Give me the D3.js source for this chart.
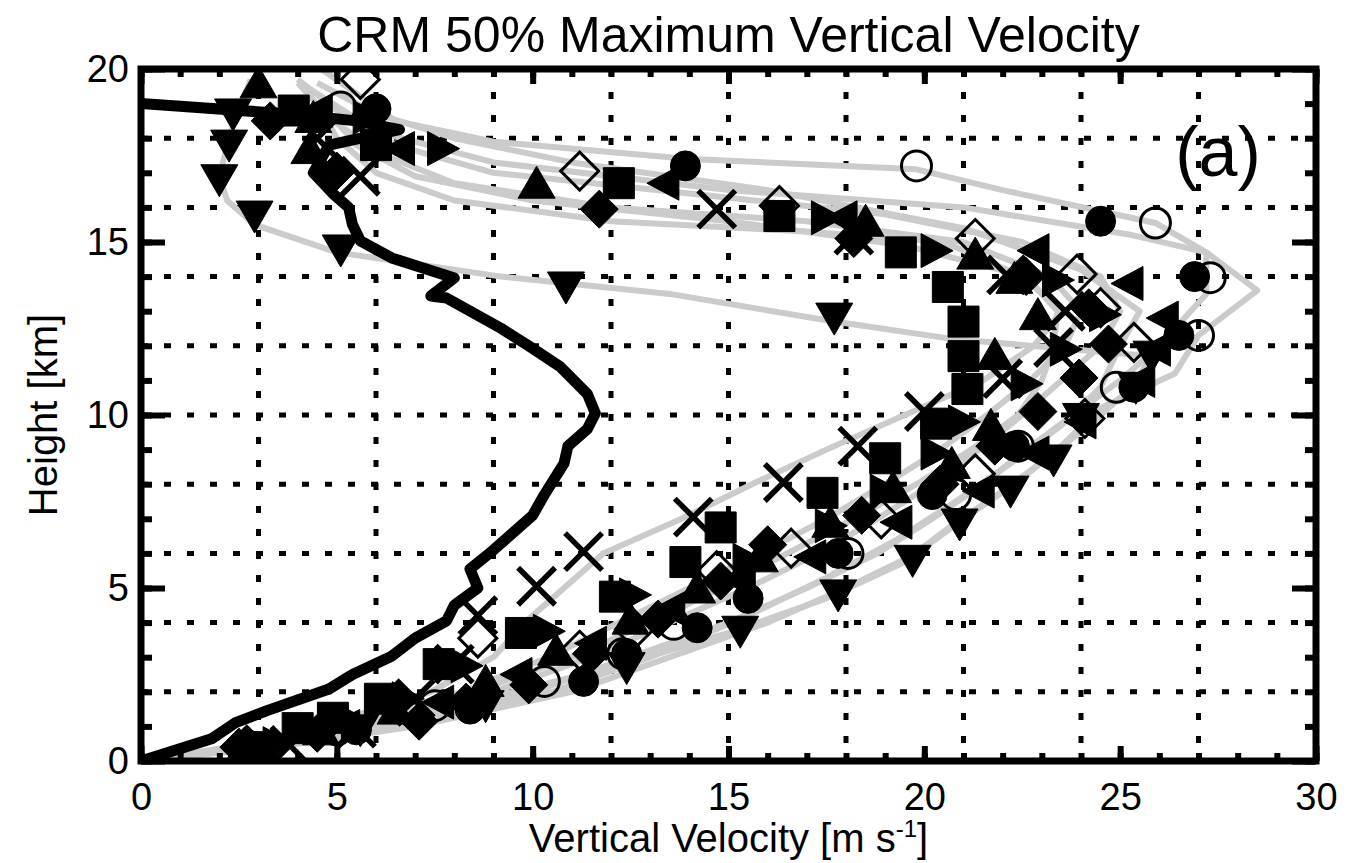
<!DOCTYPE html>
<html>
<head>
<meta charset="utf-8">
<script src="https://cdn.jsdelivr.net/npm/d3@7"></script>
<style>
  body { margin: 0; background: #fff; }
  text { font-family: "Liberation Sans", Arial, Helvetica, sans-serif; }
</style>
</head>
<body>
<div id="chart"></div>
<script>
// axis ticks / grid
const xMajor = [0, 5, 10, 15, 20, 25, 30];
const yMajor = [0, 5, 10, 15, 20];
const xMinor = d3.range(0, 31, 1);
const yMinor = d3.range(0, 21, 1);
const xGrid = [3, 6, 9, 12, 15, 18, 21, 24, 27];
const yGrid = [2, 4, 6, 8, 10, 12, 14, 16, 18];

// thick black profile [w, z]
const obsProfile = [[0,0],[1.8,0.64],[2.4,1.1],[3.2,1.45],[4.8,2.08],[5.4,2.5],[6.4,3.03],[7.0,3.55],[7.8,4.05],[8.0,4.5],[8.6,5.0],[8.4,5.55],[9.0,6.1],[9.4,6.5],[10.0,7.1],[10.3,7.7],[10.8,8.6],[10.9,9.1],[11.4,9.6],[11.6,10.05],[11.4,10.6],[10.7,11.4],[9.9,12.0],[9.2,12.5],[7.8,13.38],[7.4,13.44],[8.0,13.96],[6.4,14.54],[5.6,15.03],[5.4,15.5],[5.3,16.0],[4.9,16.4],[4.4,17.0],[4.8,17.8],[6.6,18.25],[5.5,18.5],[3.8,18.7],[0,19.0]];

// grey model profiles [w, z]
const grey1 = [[0,0],[4.0,0.5],[7.0,1.0],[11.0,2.0],[13.5,3.0],[16.0,4.0],[18.0,5.0],[19.8,6.0],[21.0,7.0],[22.3,8.0],[23.4,9.0],[24.5,10.2],[26.4,11.2],[27.0,12.3],[28.5,13.6],[27.2,14.7],[25.9,15.55],[22.0,16.5],[19.8,17.1],[14.0,17.4],[9.0,17.9],[6.5,18.5],[4.6,20.0]];
const grey2 = [[0,0],[3.5,0.5],[6.0,1.0],[10.0,2.0],[12.5,3.0],[15.0,4.0],[17.0,5.0],[18.8,6.0],[20.2,7.0],[21.5,8.0],[22.6,9.0],[23.8,10.0],[25.0,11.0],[26.0,12.0],[27.2,13.5],[27.2,14.7],[25.3,15.2],[21.0,16.0],[15.0,16.5],[9.0,17.3],[6.0,18.2],[4.2,19.5]];
const grey3 = [[0,0],[3.2,0.5],[5.5,1.0],[9.0,2.0],[11.5,3.0],[13.5,4.0],[15.5,5.0],[17.3,6.0],[18.8,7.0],[20.2,8.0],[21.4,9.0],[22.5,10.0],[23.5,11.0],[24.5,12.0],[25.0,13.0],[24.5,14.0],[22.5,15.0],[19.0,15.8],[14.0,16.4],[9.0,17.0],[6.5,17.8],[5.0,18.8],[4.0,19.7]];
const grey4 = [[0,0],[3.0,0.5],[5.0,1.0],[8.2,2.0],[10.4,3.0],[12.2,4.0],[14.0,5.0],[15.8,6.0],[17.5,7.0],[19.0,8.0],[20.4,9.0],[21.6,10.0],[22.7,11.0],[23.6,12.0],[24.0,13.0],[23.2,14.0],[21.0,15.0],[17.0,15.6],[12.0,16.0],[8.0,16.7],[6.0,17.6],[4.8,18.6],[4.0,19.6]];
const grey5 = [[0,0],[2.8,0.5],[4.6,1.0],[7.4,2.0],[9.0,3.0],[9.8,4.0],[10.8,5.0],[11.8,6.0],[13.8,7.0],[15.6,8.0],[17.5,9.0],[19.5,10.0],[21.5,11.0],[22.8,12.0],[23.5,13.0],[22.5,14.0],[20.5,15.0],[17.0,15.3],[12.0,15.6],[8.0,16.2],[6.0,17.0],[5.0,18.0],[4.5,19.0]];
const grey6 = [[0,0],[3.3,0.4],[5.6,1.0],[8.8,1.8],[12.0,2.7],[15.0,3.7],[17.5,4.7],[19.4,5.7],[20.7,6.8],[22.0,7.8],[23.2,8.8],[24.3,9.8],[25.3,10.8],[25.8,11.7],[20.7,12.2],[17.7,12.7],[13.5,13.5],[9.2,14.0],[5.0,14.7],[2.9,15.5],[2.2,16.2],[2.0,16.9],[2.3,18.2],[2.6,19.1],[2.8,19.7]];
const grey7 = [[0,0],[3.6,0.5],[6.5,1.0],[10.5,2.0],[13.0,3.0],[15.5,4.2],[17.5,5.3],[19.3,6.4],[20.8,7.5],[22.2,8.6],[23.5,9.7],[24.5,10.8],[25.0,12.0],[25.5,13.0],[24.0,14.2],[21.0,15.4],[16.0,16.5],[11.0,17.3],[8.0,18.0],[6.0,18.7],[4.5,19.6]];
const grey8 = [[0,0],[3.0,0.5],[5.2,1.0],[8.5,2.0],[11.0,3.0],[13.0,4.0],[14.8,5.0],[16.5,6.0],[18.2,7.0],[19.8,8.0],[21.2,9.0],[22.4,10.0],[23.0,11.0],[23.3,12.0],[23.4,13.0],[22.6,14.0],[19.5,14.9],[15.0,15.6],[10.0,16.2],[7.0,16.9],[5.5,17.8],[4.6,19.0]];

// symbol series [w, z]
const filledCircle = [[3.0,0.4],[5.5,0.9],[8.4,1.5],[11.3,2.3],[12.4,3.1],[14.2,3.85],[15.5,4.7],[17.8,6.0],[20.2,7.7],[22.3,9.1],[25.35,10.8],[26.5,12.3],[26.9,14.0],[24.5,15.6],[13.9,17.2],[6.0,18.85]];
const openCircle = [[2.7,0.45],[5.0,0.9],[7.5,1.6],[10.3,2.3],[12.3,3.1],[13.6,3.95],[18.05,6.0],[20.8,7.7],[22.4,9.1],[24.9,10.8],[27.0,12.3],[27.3,13.97],[25.9,15.55],[19.8,17.2],[5.1,18.9]];
const filledSquare = [[2.8,0.4],[4.0,0.95],[4.9,1.25],[6.1,1.8],[7.6,2.8],[9.7,3.7],[12.1,4.75],[13.9,5.75],[14.8,6.75],[17.4,7.75],[19.0,8.75],[20.3,9.75],[21.1,10.75],[21.0,11.7],[21.0,12.7],[20.6,13.7],[19.4,14.7],[16.3,15.75],[12.2,16.7],[6.0,17.8],[3.9,18.8]];
const triRight = [[3.5,0.5],[5.5,1.1],[6.8,1.8],[8.3,2.75],[10.4,3.75],[12.6,4.8],[15.5,5.8],[17.6,6.8],[19.0,7.8],[20.3,8.9],[21.0,9.8],[22.6,10.9],[23.6,11.9],[24.6,12.9],[23.4,13.9],[20.3,14.75],[17.5,15.7],[7.7,17.7],[5.8,18.6]];
const triDown = [[3.3,0.35],[5.6,0.9],[8.8,1.6],[12.4,2.7],[15.3,3.75],[17.8,4.8],[19.7,5.8],[20.9,6.85],[22.2,7.8],[23.3,8.7],[24.0,9.9],[25.4,10.8],[25.8,11.7],[17.7,12.8],[10.85,13.7],[5.1,14.77],[2.9,15.75],[2.0,16.8],[2.25,17.8],[2.35,18.7]];
const filledDiamond = [[2.5,0.4],[4.5,0.8],[7.1,1.15],[8.3,1.7],[9.9,2.2],[11.5,3.1],[13.2,4.1],[14.8,5.2],[16.0,6.25],[18.4,7.1],[20.4,8.0],[21.8,9.1],[22.9,10.1],[23.95,11.07],[24.7,12.05],[24.2,13.1],[22.6,14.0],[18.2,15.1],[11.7,15.95],[5.0,17.05],[3.3,18.5]];
const openDiamond = [[2.7,0.45],[5.0,1.0],[6.6,1.6],[8.6,3.55],[11.2,3.2],[12.6,3.8],[14.7,5.5],[16.6,6.15],[18.9,7.0],[21.3,8.3],[24.1,9.9],[25.35,12.1],[24.5,13.1],[23.9,14.07],[21.3,15.1],[16.3,16.05],[11.2,17.05],[5.6,19.7]];
const triUp = [[2.6,0.35],[4.6,0.9],[6.5,1.5],[8.8,2.3],[10.6,3.2],[12.5,4.1],[14.2,5.0],[15.8,5.9],[17.6,6.9],[19.2,7.9],[20.7,8.6],[21.7,9.7],[21.8,11.75],[22.9,12.9],[22.3,13.95],[21.3,14.65],[18.5,15.6],[10.1,16.7],[4.3,17.7],[4.4,18.6],[3.0,19.6]];
const triLeft = [[3.0,0.45],[5.2,1.0],[7.6,1.7],[9.6,2.5],[11.5,3.4],[13.5,4.4],[15.3,5.2],[17.1,5.9],[19.3,6.9],[21.4,7.8],[22.8,8.9],[24.0,9.8],[25.5,11.0],[25.9,11.9],[26.1,12.8],[25.2,13.8],[22.8,14.75],[17.9,15.7],[13.35,16.7],[6.6,17.7],[4.5,18.8]];
const crossMark = [[3.8,0.45],[5.5,0.95],[7.0,1.8],[8.0,2.8],[8.6,4.2],[10.1,5.05],[11.3,6.05],[14.1,7.05],[16.4,8.05],[18.3,9.1],[20.0,10.1],[22.0,11.05],[23.3,11.95],[23.6,13.0],[22.1,14.05],[18.2,15.2],[14.7,15.95],[5.6,16.9],[4.5,18.0]];

const greyProfiles = [grey1, grey2, grey3, grey4, grey5, grey6, grey7, grey8];

var margin = { top: 69, right: 40, bottom: 102, left: 141 };
var width = 1175;
var height = 692;

var x = d3.scaleLinear().domain([0, 30]).range([0, width]);
var y = d3.scaleLinear().domain([0, 20]).range([height, 0]);

// marker shapes, drawn with d3.path
function shape(kind) {
  var p = d3.path();
  if (kind === "circle") { p.arc(0, 0, 15, 0, 2 * Math.PI); }
  else if (kind === "square") { p.rect(-15.5, -15.5, 31, 31); }
  else if (kind === "diamond") { p.moveTo(0, -19); p.lineTo(19, 0); p.lineTo(0, 19); p.lineTo(-19, 0); p.closePath(); }
  else if (kind === "up") { p.moveTo(0, -17); p.lineTo(18.5, 15); p.lineTo(-18.5, 15); p.closePath(); }
  else if (kind === "down") { p.moveTo(0, 17); p.lineTo(18.5, -15); p.lineTo(-18.5, -15); p.closePath(); }
  else if (kind === "left") { p.moveTo(-17, 0); p.lineTo(15, -17); p.lineTo(15, 17); p.closePath(); }
  else if (kind === "right") { p.moveTo(17, 0); p.lineTo(-15, -17); p.lineTo(-15, 17); p.closePath(); }
  else if (kind === "cross") { p.moveTo(-18.5, -18.5); p.lineTo(18.5, 18.5); p.moveTo(18.5, -18.5); p.lineTo(-18.5, 18.5); }
  return p.toString();
}

var markerSeries = [
  { pts: triDown, kind: "down", fill: true },
  { pts: filledCircle, kind: "circle", fill: true },
  { pts: openCircle, kind: "circle", fill: false },
  { pts: triLeft, kind: "left", fill: true },
  { pts: filledDiamond, kind: "diamond", fill: true },
  { pts: openDiamond, kind: "diamond", fill: false },
  { pts: triUp, kind: "up", fill: true },
  { pts: triRight, kind: "right", fill: true },
  { pts: filledSquare, kind: "square", fill: true },
  { pts: crossMark, kind: "cross", fill: false }
];

var svg = d3.select("#chart").append("svg")
  .attr("width", 1356)
  .attr("height", 863)
  .append("g")
  .attr("transform", `translate(${margin.left}, ${margin.top})`);

svg.append("defs").append("clipPath").attr("id", "clip")
  .append("rect").attr("width", width).attr("height", height);

// dotted grid
svg.append("g").selectAll("line").data(xGrid).join("line")
  .attr("x1", d => x(d)).attr("x2", d => x(d)).attr("y1", 0).attr("y2", height)
  .attr("stroke", "#000").attr("stroke-width", 5).attr("stroke-dasharray", "7,16");
svg.append("g").selectAll("line").data(yGrid).join("line")
  .attr("y1", d => y(d)).attr("y2", d => y(d)).attr("x1", 0).attr("x2", width)
  .attr("stroke", "#000").attr("stroke-width", 5).attr("stroke-dasharray", "7,16");

var line = d3.line().x(d => x(d[0])).y(d => y(d[1]));

var plot = svg.append("g").attr("clip-path", "url(#clip)");

plot.append("g").selectAll("path").data(greyProfiles).join("path")
  .attr("d", line)
  .style("fill", "none")
  .style("stroke", "#cbcbcb")
  .style("stroke-width", 6)
  .style("stroke-linejoin", "round");

plot.append("path")
  .attr("d", line(obsProfile))
  .style("fill", "none")
  .style("stroke", "#000")
  .style("stroke-width", 11)
  .style("stroke-linejoin", "round");

markerSeries.forEach(function (s) {
  plot.append("g").selectAll("path").data(s.pts).join("path")
    .attr("transform", d => `translate(${x(d[0])},${y(d[1])})`)
    .attr("d", shape(s.kind))
    .attr("fill", s.fill ? "#000" : "none")
    .attr("stroke", "#000")
    .attr("stroke-width", s.kind === "cross" ? 5.5 : (s.fill ? 1 : 3));
});

// axes with inward ticks
function styleAxis(g) {
  g.select(".domain").remove();
  g.attr("font-size", 38).attr("font-family", '"Liberation Sans", Arial, Helvetica, sans-serif');
  g.selectAll(".tick line").attr("stroke", "#000").attr("stroke-width", 6);
  g.selectAll(".tick text").attr("fill", "#000");
}

var axBottom = svg.append("g").attr("transform", `translate(0, ${height})`);
axBottom.append("g").call(d3.axisBottom(x).tickValues(xMinor).tickSize(-8).tickFormat("")).call(styleAxis);
axBottom.append("g").call(d3.axisBottom(x).tickValues(xMajor).tickSize(-15).tickPadding(22)).call(styleAxis);

var axTop = svg.append("g");
axTop.append("g").call(d3.axisTop(x).tickValues(xMinor).tickSize(-8).tickFormat("")).call(styleAxis);
axTop.append("g").call(d3.axisTop(x).tickValues(xMajor).tickSize(-15).tickFormat("")).call(styleAxis);

var axLeft = svg.append("g");
axLeft.append("g").call(d3.axisLeft(y).tickValues(yMinor).tickSize(-11).tickFormat("")).call(styleAxis);
axLeft.append("g").call(d3.axisLeft(y).tickValues(yMajor).tickSize(-24).tickPadding(12)).call(styleAxis);

var axRight = svg.append("g").attr("transform", `translate(${width}, 0)`);
axRight.append("g").call(d3.axisRight(y).tickValues(yMinor).tickSize(-11).tickFormat("")).call(styleAxis);
axRight.append("g").call(d3.axisRight(y).tickValues(yMajor).tickSize(-24).tickFormat("")).call(styleAxis);

// frame
svg.append("rect")
  .attr("width", width).attr("height", height)
  .attr("fill", "none").attr("stroke", "#000").attr("stroke-width", 7);

// texts
svg.append("text")
  .attr("x", width / 2).attr("y", 52 - margin.top)
  .attr("text-anchor", "middle").attr("font-size", 50)
  .text("CRM 50% Maximum Vertical Velocity");

svg.append("text")
  .attr("x", 1218 - margin.left).attr("y", 176 - margin.top)
  .attr("text-anchor", "middle").attr("font-size", 70)
  .text("(a)");

var xt = svg.append("text")
  .attr("x", width / 2).attr("y", 852 - margin.top)
  .attr("text-anchor", "middle").attr("font-size", 40);
xt.append("tspan").text("Vertical Velocity [m s");
xt.append("tspan").attr("dy", -15).attr("font-size", 24).text("-1");
xt.append("tspan").attr("dy", 15).text("]");

svg.append("text")
  .attr("transform", `translate(${57 - margin.left}, ${height / 2}) rotate(-90)`)
  .attr("text-anchor", "middle").attr("font-size", 40)
  .text("Height [km]");
</script>
</body>
</html>
